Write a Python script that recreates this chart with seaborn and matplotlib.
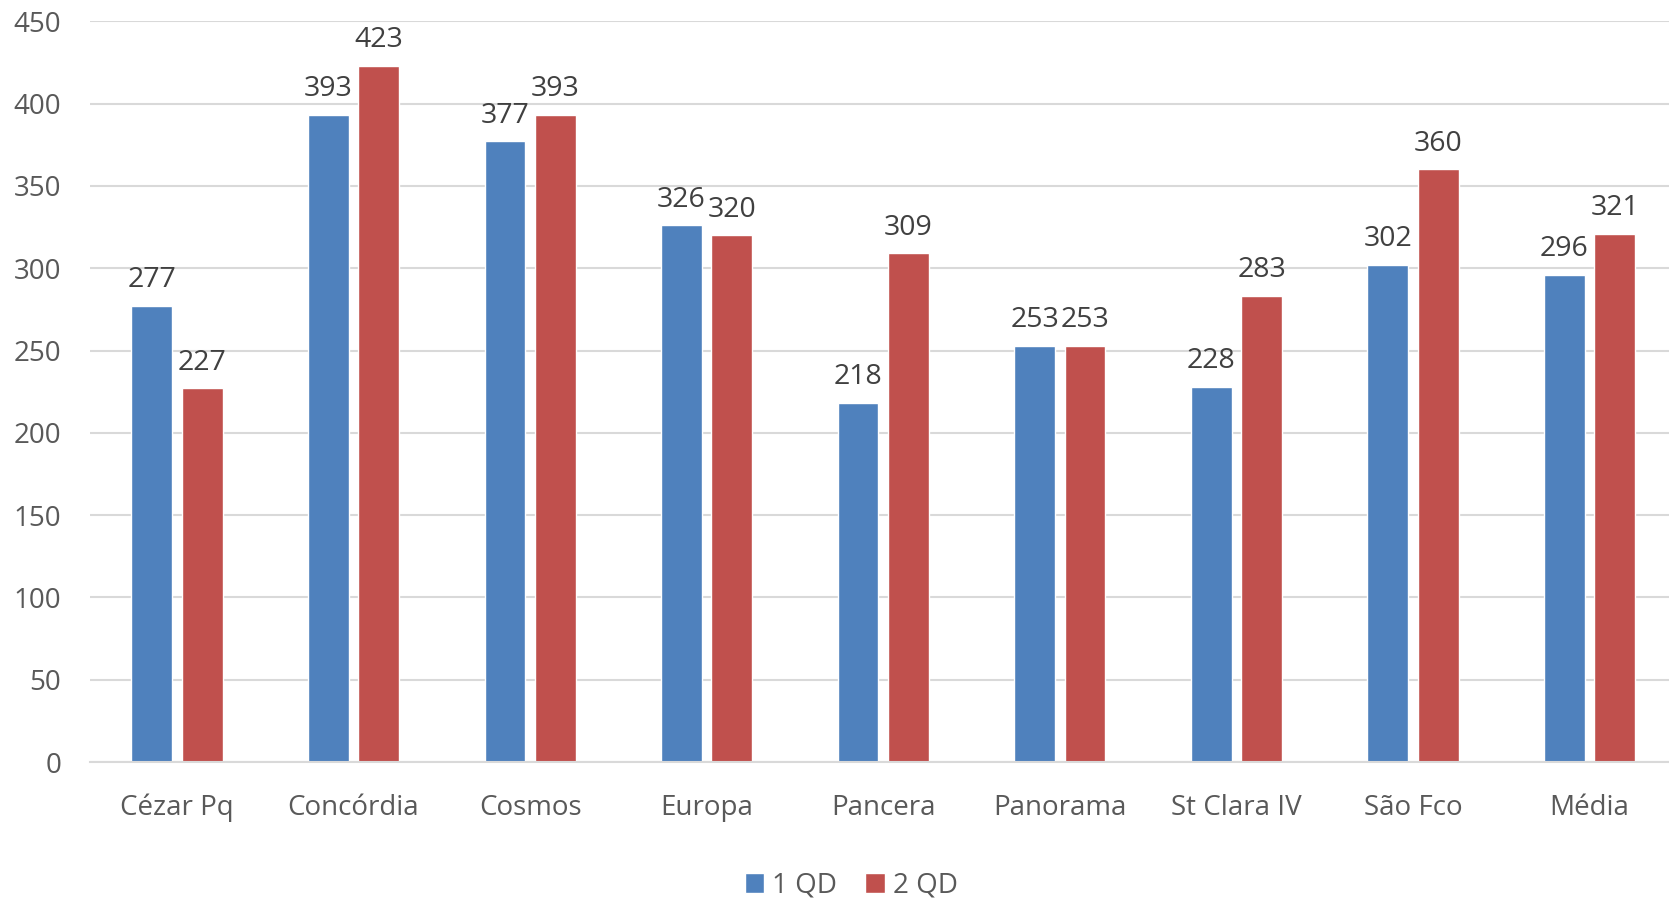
import matplotlib
matplotlib.use("Agg")
import matplotlib.pyplot as plt
import seaborn as sns
import pandas as pd

categories = ["Cézar Pq", "Concórdia", "Cosmos", "Europa", "Pancera", "Panorama", "St Clara IV", "São Fco", "Média"]
qd1 = [277, 393, 377, 326, 218, 253, 228, 302, 296]
qd2 = [227, 423, 393, 320, 309, 253, 283, 360, 321]
series_names = ["1 QD", "2 QD"]
yticks = [0, 50, 100, 150, 200, 250, 300, 350, 400, 450]

sns.set_theme(style="white")
plt.rcParams["font.family"] = ["Open Sans", "DejaVu Sans"]

df = pd.DataFrame({
    "cat": categories * 2,
    "val": qd1 + qd2,
    "serie": [series_names[0]] * len(categories) + [series_names[1]] * len(categories),
})

fig = plt.figure(figsize=(16.69, 9.0), dpi=100)
ax = fig.add_axes([0.0542, 0.1533, 0.9458, 0.823])

sns.barplot(data=df, x="cat", y="val", hue="serie", order=categories,
            hue_order=series_names, palette=["#4F81BD", "#C0504D"],
            width=0.57, gap=0.19, saturation=1, ax=ax, errorbar=None)

for cont in ax.containers:
    ax.bar_label(cont, fmt="%d", padding=8.5, fontsize=20.5, color="#404040")

ax.set_ylim(0, 450)
ax.set_yticks(yticks)
ax.set_xlim(-0.49, 8.45)
ax.yaxis.grid(True, color="#D9D9D9", linewidth=1.5)
ax.set_axisbelow(True)
for s in ["top", "right", "left"]:
    ax.spines[s].set_visible(False)
ax.spines["bottom"].set_color("#D9D9D9")
ax.spines["bottom"].set_linewidth(1.5)
ax.tick_params(axis="both", length=0, labelsize=20, colors="#595959")
ax.tick_params(axis="x", pad=23)
ax.tick_params(axis="y", pad=21)
ax.set_xlabel("")
ax.set_ylabel("")

ax.legend_.remove()
handles, labels = ax.get_legend_handles_labels()
fig.legend(handles, labels, loc="center", bbox_to_anchor=(0.51, 0.016), ncol=2,
           frameon=False, fontsize=20, labelcolor="#595959", handlelength=0.7,
           handleheight=0.7, handletextpad=0.3, columnspacing=1.0)

fig.savefig("out.png", dpi=100)
